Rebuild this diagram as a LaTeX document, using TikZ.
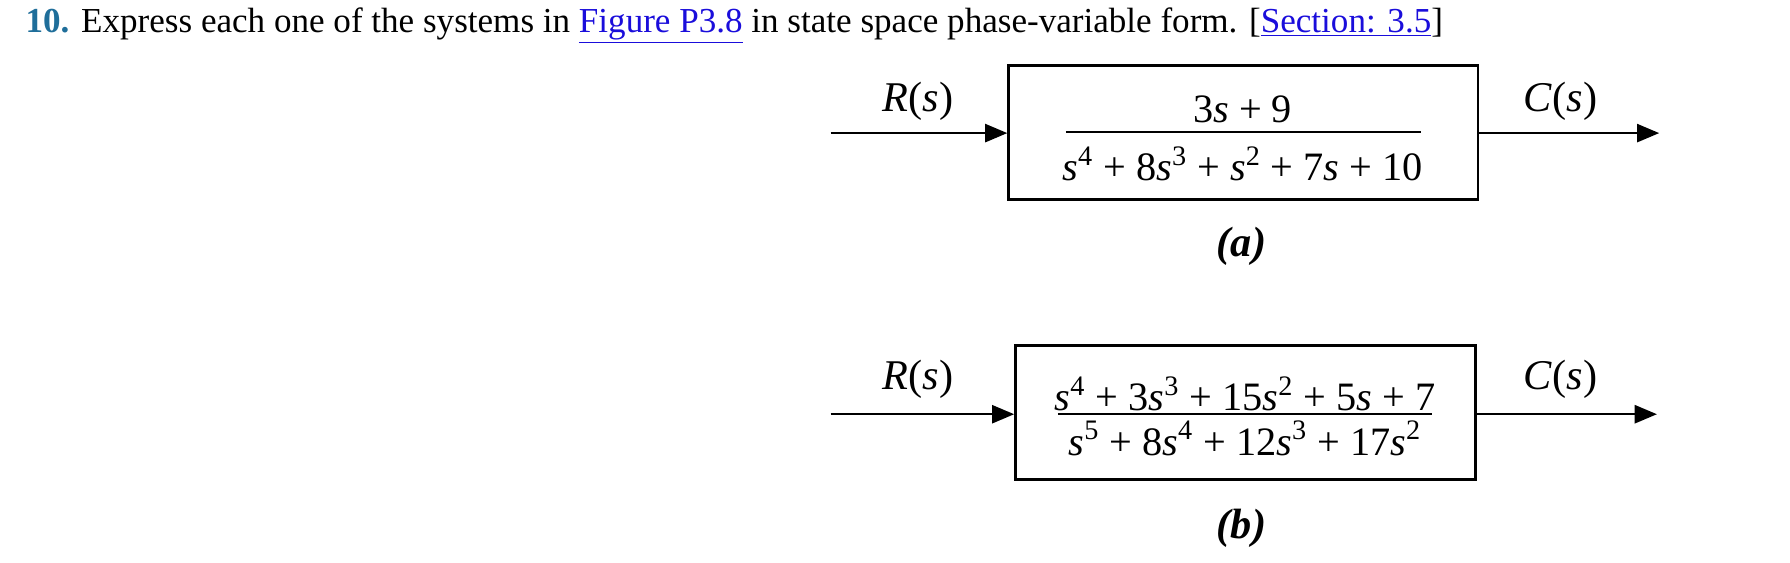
\documentclass[tikz,border=0pt]{standalone}
\usepackage{fontspec}
\setmainfont{Liberation Serif}
\usepackage{xcolor}
\definecolor{teal1}{HTML}{1F6E9A}
\definecolor{lnk}{HTML}{1A0DDB}
\usetikzlibrary{arrows.meta}
\newcommand{\ul}[1]{\underline{#1}}
\newcommand{\sv}{\textit{s}}
\begin{document}
\begin{tikzpicture}[x=0.02cm,y=-0.02cm,
  blk/.style={draw,line width=1.3pt,inner sep=0},
  sig/.style={line width=1.1pt,-{Triangle[length=11pt,width=9pt]}},
  lbl/.style={font=\fontsize{21}{24}\selectfont},
  fr/.style={font=\fontsize{20}{23}\selectfont}]
\useasboundingbox (0,0) rectangle (1560,490.6);
\node[anchor=base west,font=\fontsize{17.4}{20}\selectfont,inner sep=0] (title) at (22,28)
 {\textcolor{teal1}{\textbf{10.}} Express each one of the systems in \textcolor{lnk}{\ul{Figure P3.8}} in state space phase-variable form. [\textcolor{lnk}{\ul{Section: 3.5}}]};
% (a)
\node[blk,minimum width=409*0.02cm,minimum height=117*0.02cm] (ba) at (1083.5,115.5) {};
\draw[line width=0.9pt] (929,115) coordinate (fa1) -- (1238,115) coordinate (fa2);
\node[fr] (na) at (1083,95) {3\sv{} + 9};
\node[fr] (da) at (1083,143) {\sv\textsuperscript{4} + 8\sv\textsuperscript{3} + \sv\textsuperscript{2} + 7\sv{} + 10};
\coordinate (ia) at (724,116);
\coordinate (oa) at (1446,116);
\draw[sig] (ia) -- (ba.west |- ia);
\draw[sig] (ba.east |- oa) -- (oa);
\node[lbl] (ra) at (800,88) {\textit{R}(\sv)};
\node[lbl] (ca) at (1360,88) {\textit{C}(\sv)};
\node[lbl] (la) at (1082,215) {\textbf{\textit{(a)}}};
% (b)
\node[blk,minimum width=401*0.02cm,minimum height=117*0.02cm] (bb) at (1085.5,359.5) {};
\draw[line width=0.9pt] (922,361) coordinate (fb1) -- (1248,361) coordinate (fb2);
\node[fr] (nb) at (1085,343) {\sv\textsuperscript{4} + 3\sv\textsuperscript{3} + 15\sv\textsuperscript{2} + 5\sv{} + 7};
\node[fr] (db) at (1085,382) {\sv\textsuperscript{5} + 8\sv\textsuperscript{4} + 12\sv\textsuperscript{3} + 17\sv\textsuperscript{2}};
\coordinate (ib) at (724,361);
\coordinate (ob) at (1444,361);
\draw[sig] (ib) -- (bb.west |- ib);
\draw[sig] (bb.east |- ob) -- (ob);
\node[lbl] (rb) at (800,331) {\textit{R}(\sv)};
\node[lbl] (cb) at (1360,331) {\textit{C}(\sv)};
\node[lbl] (lb) at (1082,460) {\textbf{\textit{(b)}}};
\end{tikzpicture}
\end{document}
